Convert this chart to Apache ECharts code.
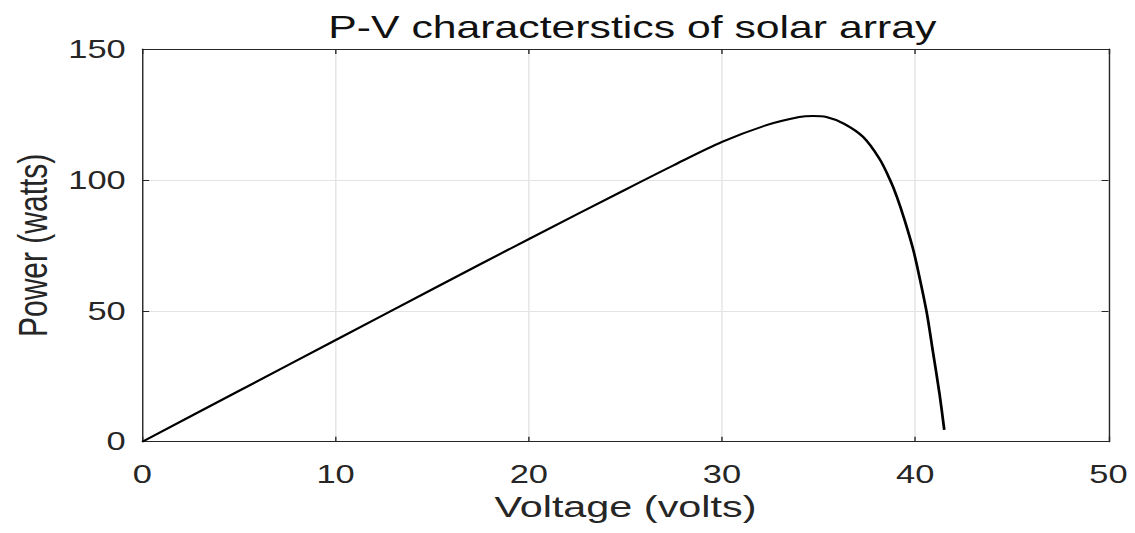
<!DOCTYPE html>
<html>
<head>
<meta charset="utf-8">
<script src="https://cdn.jsdelivr.net/npm/echarts@6/dist/echarts.min.js"></script>
<style>
  html, body { margin: 0; padding: 0; background: #fff; overflow: hidden; }
  /* the source figure is stretched sideways, so draw narrow and stretch it */
  #chart { width: 823px; height: 533px; transform: scaleX(1.3791); transform-origin: 0 0; }
</style>
</head>
<body>
<div id="chart"></div>
<script>
// voltage (V) and power (W)
const voltage = [0, 5, 10, 15, 20, 25, 27.5, 30, 32.3, 34.0, 34.7, 35.4, 36.3, 37.3, 38.15, 38.7, 39.05, 39.45, 39.9, 40.25, 40.6, 40.9, 41.25, 41.5];
const power = [0, 19.4, 38.8, 58.2, 77.4, 96.3, 105.6, 114.5, 120.9, 124.0, 124.4, 124.0, 121.5, 116.4, 108.0, 99.9, 93.5, 84.6, 73.2, 61.7, 49.0, 35.0, 18.5, 4.5];
const xTicks = [0, 10, 20, 30, 40, 50];
const yTicks = [0, 50, 100, 150];

const font = "Liberation Sans, Arial, sans-serif";
const chart = echarts.init(document.getElementById("chart"), null, { renderer: "svg" });

const axisCommon = {
    axisLine: { show: true, onZero: false, lineStyle: { color: "#262626", width: 1 } },
    axisTick: { show: true, inside: true, length: 5, lineStyle: { color: "#262626" } },
};

chart.setOption({
    animation: false,
    title: {
        text: "P-V characterstics of solar array",
        left: 453.5, textAlign: "center", top: 7,
        textStyle: { fontFamily: font, fontSize: 31, fontWeight: "normal", color: "#111" },
    },
    grid: { left: 103.2, right: 19.2, top: 49, bottom: 91.3 },
    xAxis: [
        Object.assign({
            type: "value", min: 0, max: 50, interval: 10,
            name: "Voltage (volts)", nameLocation: "middle", nameGap: 49,
            nameTextStyle: { fontFamily: font, fontSize: 30, color: "#262626" },
            axisLabel: { fontFamily: font, fontSize: 25, color: "#262626", margin: 20,
                formatter: v => xTicks.includes(v) ? String(v) : "" },
            splitLine: { show: true, lineStyle: { color: "#e3e3e3", width: 1 } },
        }, axisCommon),
        Object.assign({
            type: "value", min: 0, max: 50, interval: 10, position: "top",
            axisLabel: { show: false }, splitLine: { show: false },
        }, axisCommon),
    ],
    yAxis: [
        Object.assign({
            type: "value", min: 0, max: 150, interval: 50,
            name: "Power (watts)", nameLocation: "middle", nameGap: 64,
            nameTextStyle: { fontFamily: font, fontSize: 30, color: "#262626" },
            axisLabel: { fontFamily: font, fontSize: 25, color: "#262626", margin: 12,
                formatter: v => yTicks.includes(v) ? String(v) : "" },
            splitLine: { show: true, lineStyle: { color: "#e3e3e3", width: 1 } },
        }, axisCommon),
        Object.assign({
            type: "value", min: 0, max: 150, interval: 50, position: "right",
            axisLabel: { show: false }, splitLine: { show: false },
        }, axisCommon),
    ],
    series: [{
        type: "line",
        data: voltage.map((v, i) => [v, power[i]]),
        smooth: 0.3,
        showSymbol: false,
        lineStyle: { color: "#000", width: 2 },
    }],
});
</script>
</body>
</html>
